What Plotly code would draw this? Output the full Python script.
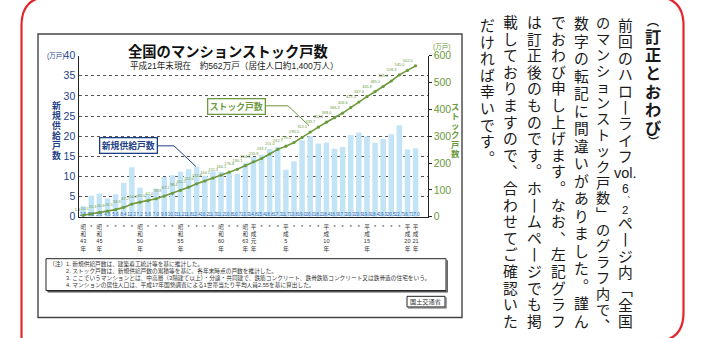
import plotly.graph_objects as go

# ---------------- data ----------------
years = list(range(1968, 2010))
supply = [2.6, 5.2, 5.8, 4.6, 5.6, 8.4, 12.3, 7.2, 5.6, 7.0,
          9.9, 10.3, 11.2, 11.8, 12.4, 10.2, 11.3, 11.2, 10.8, 10.7,
          13.3, 14.8, 15.4, 16.8, 17.3, 11.7, 13.8, 19.0, 20.0, 18.2,
          18.4, 16.9, 17.3, 20.3, 20.9, 19.9, 18.4, 19.3, 20.5, 22.7,
          16.7, 17.0]
stock = [5.3, 10.5, 16.3, 20.9, 26.5, 34.9, 47.2, 54.4, 60.0, 67.0,
         76.9, 87.2, 98.4, 110.2, 122.6, 132.8, 144.1, 155.3, 166.1, 176.8,
         190.1, 204.9, 216.9, 233.7, 251.0, 262.7, 276.5, 295.5, 315.5, 333.7,
         352.1, 369.0, 386.3, 406.6, 427.5, 447.4, 465.8, 485.1, 505.6, 528.3,
         545.0, 562.0]
era_labels = {1968: "昭<br>和<br>43<br>年", 1970: "昭<br>和<br>45<br>年",
              1975: "昭<br>和<br>50<br>年", 1980: "昭<br>和<br>55<br>年",
              1985: "昭<br>和<br>60<br>年", 1988: "昭<br>和<br>63<br>年",
              1989: "平<br>成<br>元<br>年", 1993: "平<br>成<br>5<br>年",
              1998: "平<br>成<br>10<br>年", 2003: "平<br>成<br>15<br>年",
              2008: "平<br>成<br>20<br>年", 2009: "平<br>成<br>21<br>年"}
left_ticks = [0, 5, 10, 15, 20, 25, 30, 35, 40]
right_ticks = [0, 100, 200, 300, 400, 500, 600]

title = "全国のマンションストック戸数"
subtitle = "平成21年末現在　約562万戸（居住人口約1,400万人）"
notes = ["1. 新規供給戸数は、建築着工統計等を基に推計した。",
         "2. ストック戸数は、新規供給戸数の累積等を基に、各年末時点の戸数を推計した。",
         "3. ここでいうマンションとは、中高層（3階建て以上）・分譲・共同建で、鉄筋コンクリート、鉄骨鉄筋コンクリート又は鉄骨造の住宅をいう。",
         "4. マンションの居住人口は、平成17年国勢調査による1世帯当たり平均人員2.55を基に算出した。"]
notice_title = "訂正とおわび"
notice_cols = [
    "前回のハローライフ", "ページ内「全国",
    "のマンションストック戸数」のグラフ内で、",
    "数字の転記に間違いがありました。謹ん",
    "でおわび申し上げます。なお、左記グラフ",
    "は訂正後のものです。ホームページでも掲",
    "載しておりますので、合わせてご確認いた",
    "だければ幸いです。",
]

# ---------------- style ----------------
W, H = 719, 338
NAVY = "#1d3f86"
GREEN = "#6c9a3c"
BAR = "#c2e4f6"
RED = "#e4262c"
INK = "#1a1a1a"
JP = "Liberation Sans, Noto Sans CJK JP"
LAT = "Liberation Sans, Noto Sans CJK JP"


def px(x):
    return x / W


def py(y):
    return 1 - y / H


ticktext = [era_labels.get(y, "*") for y in years]

fig = go.Figure()
fig.add_trace(go.Bar(
    x=years, y=supply, marker=dict(color=BAR, line=dict(width=0)), width=0.68,
    text=[f"{v:.1f}" for v in supply], textposition="inside",
    insidetextanchor="start", textangle=0, constraintext="none",
    insidetextfont=dict(size=4.5, color="#2f66b3", family=LAT),
    hoverinfo="skip", showlegend=False))
fig.add_trace(go.Scatter(
    x=years, y=stock, yaxis="y2", mode="lines+markers+text",
    line=dict(color=GREEN, width=1.6), marker=dict(size=3.2, color=GREEN),
    text=[f"{v:.1f}" for v in stock], textposition="top left",
    textfont=dict(size=3.9, color=GREEN, family=LAT), cliponaxis=False,
    hoverinfo="skip", showlegend=False))

fig.update_layout(
    width=W, height=H, margin=dict(l=0, r=0, t=0, b=0),
    paper_bgcolor="white", plot_bgcolor="white", showlegend=False,
    xaxis=dict(domain=[px(78.5), px(427.5)], range=[1967.42, 2010.47],
               tickvals=years, ticktext=ticktext, tickangle=0,
               ticks="outside", ticklen=4, tickcolor="rgba(0,0,0,0)",
               tickfont=dict(size=5.6, color="#333", family=JP),
               showline=True, linecolor="#222", linewidth=1.4,
               showgrid=False, zeroline=False, fixedrange=True),
    yaxis=dict(domain=[py(218.5), py(51.5)], range=[0, 40], tickvals=left_ticks,
               tickfont=dict(size=10.5, color=NAVY, family=LAT),
               showline=True, linecolor="#222", linewidth=1.2,
               showgrid=True, gridcolor="#555", griddash="dot", gridwidth=1,
               zeroline=False, ticks="", fixedrange=True),
    yaxis2=dict(overlaying="y", side="right", anchor="x", range=[0, 600],
                tickvals=right_ticks,
                tickfont=dict(size=10.5, color=GREEN, family=LAT),
                showline=True, linecolor="#222", linewidth=1.2,
                ticks="outside", ticklen=3, tickcolor="#222",
                showgrid=False, zeroline=False, fixedrange=True),
)

ann = []
shapes = []


def text(x, y, s, size, color="#222", anchor="center", bold=False, family=JP, **kw):
    ann.append(dict(x=px(x), y=py(y), xref="paper", yref="paper", text=(f"<b>{s}</b>" if bold else s),
                    showarrow=False, xanchor=anchor, yanchor="middle",
                    font=dict(size=size, color=color, family=family), **kw))


# vertical text: one annotation per run, line pitch from base size, glyphs from span size
VMAP = {"、": "︑", "。": "︒", "「": "﹁", "」": "﹂", "ー": "丨"}


def vblock(s, xc, top, pitch, glyph, color, bold=False):
    chars = [VMAP.get(c, c) for c in s]
    body = "<br>".join(f'<span style="font-size:{glyph}px">{c}</span>' for c in chars)
    center = top + len(chars) * pitch / 2
    text(xc, center, body, pitch / 1.3, color, bold=bold)


# title / subtitle
text(228, 47, title, 14.3, "#111", bold=True, bgcolor="white", borderpad=7)
text(128, 62, subtitle, 8.6, "#222", anchor="left")
# unit labels
text(66, 51.5, "(万戸)", 6.5, NAVY, anchor="right")
text(431, 43, "(万戸)", 6.5, GREEN, anchor="left")

# callout boxes
text(236.5, 103.7, "ストック戸数", 8.8, GREEN, bold=True, bgcolor="white",
     bordercolor=GREEN, borderwidth=1.3, borderpad=1.5)
text(128, 145, "新規供給戸数", 8.8, NAVY, bold=True, bgcolor="white",
     bordercolor=NAVY, borderwidth=1.3, borderpad=1.5)


def pline(pts, color, width):
    d = "M " + " L ".join(f"{px(x):.5f},{py(y):.5f}" for x, y in pts)
    shapes.append(dict(type="path", xref="paper", yref="paper", path=d,
                       line=dict(color=color, width=width)))


pline([(265, 103.5), (288, 103.5), (309, 124)], GREEN, 1)
pline([(157, 145), (174, 145), (196, 166.5)], NAVY, 1)

# axis titles (vertical)
vblock("新規供給戸数", 56, 99, 9.9, 8.8, NAVY, bold=True)
vblock("ストック戸数", 455.5, 101, 9.4, 8.4, GREEN, bold=True)

# notes box
shapes.append(dict(type="rect", xref="paper", yref="paper", x0=px(46), x1=px(446), y0=py(262), y1=py(295),
                   line=dict(color="#222", width=1)))
pline([(47.5, 296.2), (447.2, 296.2), (447.2, 263.5)], "#555", 1.4)
text(47, 268, "（注）", 5.8, "#333", anchor="left")
for i, s in enumerate(notes):
    text(64, 268 + i * 7.1, s, 5.7, "#333", anchor="left")
shapes.append(dict(type="rect", xref="paper", yref="paper", x0=px(407), x1=px(445), y0=py(301), y1=py(312),
                   line=dict(color="#222", width=1)))
pline([(408, 313), (446, 313), (446, 302)], "#666", 1.2)
text(426, 306.5, "国土交通省", 6.2, "#333")

# outer chart box
shapes.append(dict(type="rect", xref="paper", yref="paper", x0=px(38), x1=px(462), y0=py(29), y1=py(323),
                   line=dict(color="#444", width=1.4)))

# red rounded border
d = (f"M {px(21.5)},{py(360)} L {px(21.5)},{py(20)} Q {px(21.5)},{py(-10)} {px(51.5)},{py(-10)} "
     f"L {px(653.5)},{py(-10)} Q {px(683.5)},{py(-10)} {px(683.5)},{py(20)} "
     f"L {px(683.5)},{py(318)} Q {px(683.5)},{py(348)} {px(653.5)},{py(348)}")
shapes.append(dict(type="path", xref="paper", yref="paper", path=d, line=dict(color=RED, width=2.2)))

# vertical correction notice (right to left)
G = 14.8
text(653, 16.5, "︵", 12, INK, bold=True)
vblock(notice_title, 653, 24.5, 18.2, 16.2, INK, bold=True)
text(653, 141, "︶", 11, INK, bold=True)

vblock(notice_cols[0], 625, 15, 16.4, G, INK)
text(625, 173, "vol.", 14.5, INK)
text(625, 189.5, "6", 12, INK)
text(626.5, 200.3, "︑", 7.2, INK)
text(625, 211, "2", 11.5, INK)
vblock(notice_cols[1], 625, 219.5, 16.4, G, INK)

vblock(notice_cols[2], 603, 15, 15.95, 14.2, INK)
vblock(notice_cols[3], 581, 15, 17.5, G, INK)
vblock(notice_cols[4], 558, 15, 16.6, G, INK)
vblock(notice_cols[5], 534.5, 15, 16.6, G, INK)
vblock(notice_cols[6], 510.5, 15, 16.6, G, INK)
vblock(notice_cols[7], 487, 15, 16.6, G, INK)

fig.update_layout(annotations=ann, shapes=shapes)
fig.write_html("out.html", include_plotlyjs=True, config={"displayModeBar": False})
